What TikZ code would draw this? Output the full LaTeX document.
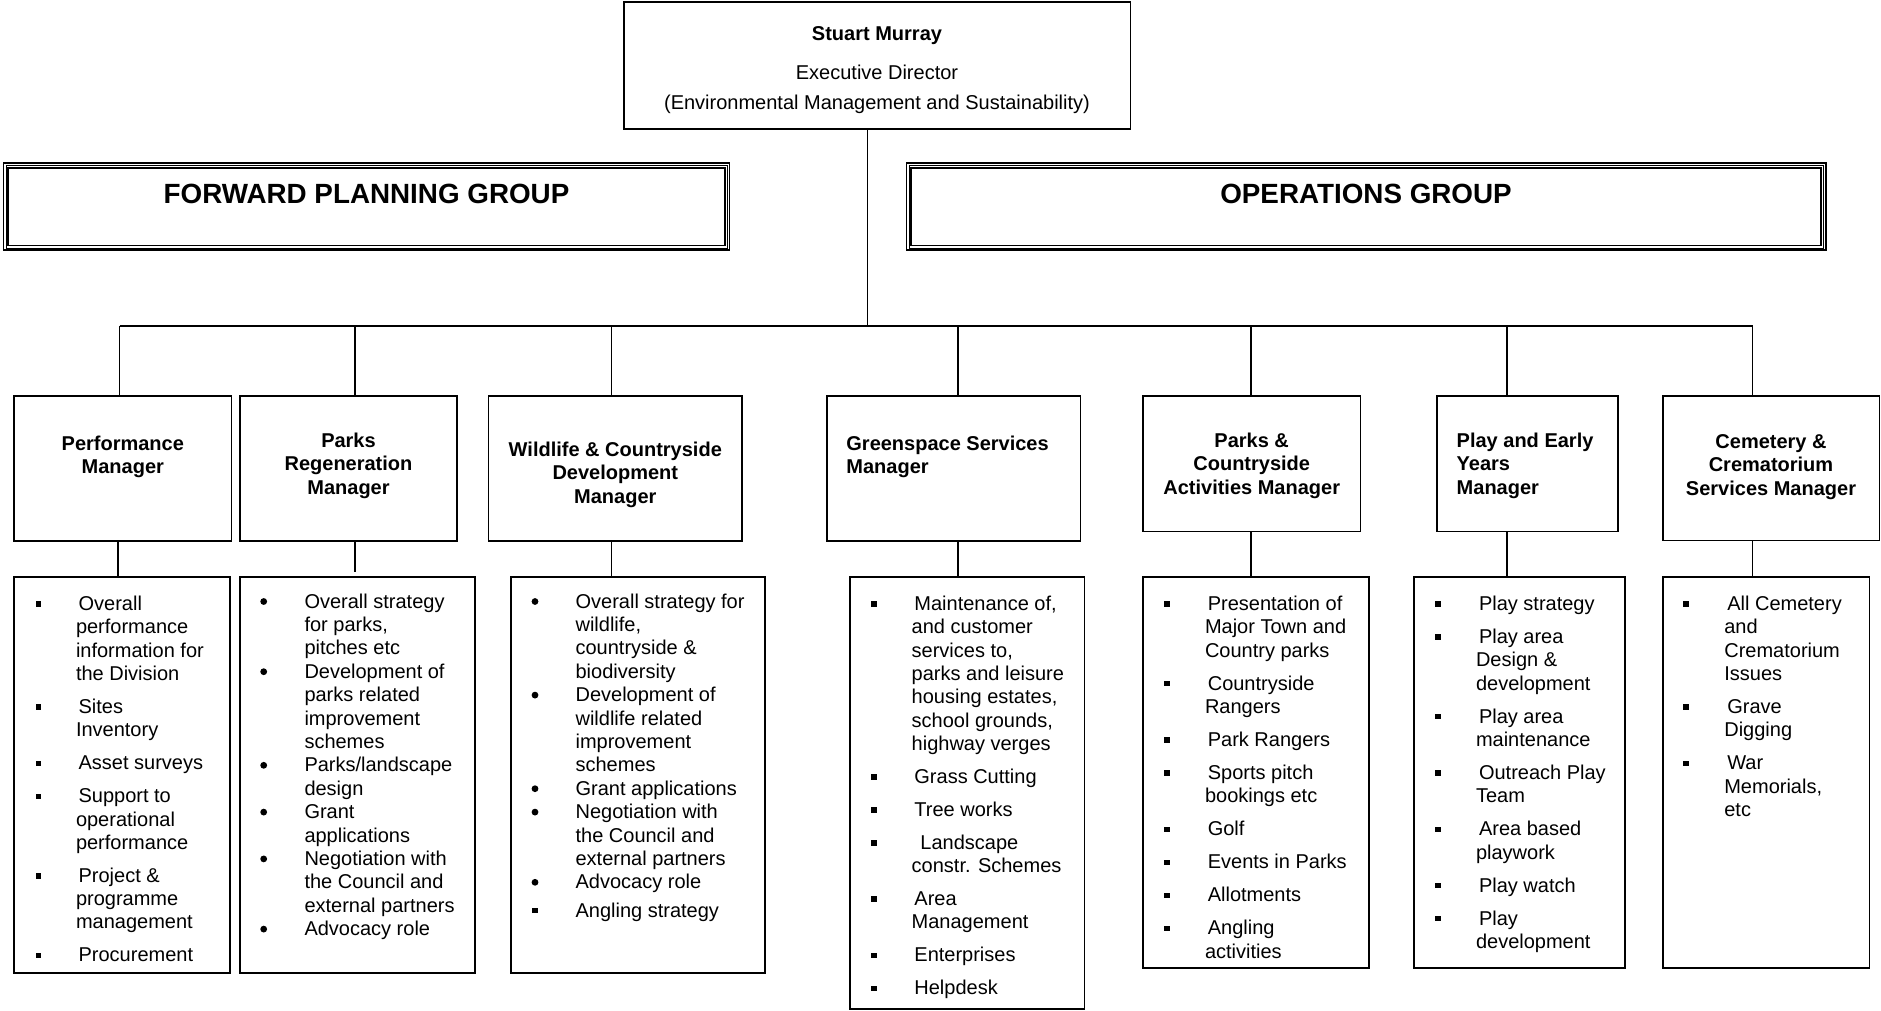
\documentclass[tikz,border=0pt]{standalone}
\usepackage{fontspec}
\setmainfont{Liberation Sans}
\usetikzlibrary{calc}
\tikzset{
  box/.style={draw, line width=1.6pt, inner sep=0pt, outer sep=0pt, rectangle},
  conn/.style={line width=1.5pt},
  txt/.style={inner sep=0pt, outer sep=0pt, anchor=base west, font=\fontsize{20}{23}\selectfont},
  hd/.style={txt, font=\fontsize{20}{23}\selectfont\bfseries},
  grp/.style={txt, anchor=base, font=\fontsize{27.8}{30}\selectfont\bfseries},
}
% box from corner (x1,y1) to (x2,y2)
\newcommand\boxat[6][box]{%
  \pgfmathsetmacro\bw{#5-#3}\pgfmathsetmacro\bh{#6-#4}%
  \pgfmathsetmacro\bx{(#3+#5)/2}\pgfmathsetmacro\by{(#4+#6)/2}%
  \node[#1,minimum width=\bw pt,minimum height=\bh pt] (#2) at (\bx,\by) {};}
\newcommand\grpat[5]{%
  \boxat[box,line width=1.9pt]{#1}{#2}{#3}{#4}{#5}%
  \draw[line width=0.8pt] ($(#1.north west)+(2.4,2.4)$) rectangle ($(#1.south east)+(-2.4,-2.4)$);
  \draw[line width=1.9pt] ($(#1.north west)+(4.8,4.8)$) rectangle ($(#1.south east)+(-4.8,-4.8)$);}
\def\lpitch{23.3}
% item: name, type (s/r), bullet x, text x, cont x, centre y, lines
\newcommand\itm[7]{%
  \if#2s\fill (#3-2.8,#6-2.2) rectangle (#3+2.8,#6+3.2);\else\fill (#3,#6+0.5) circle[radius=3.4];\fi
  \foreach \myl [count=\i from 0] in {#7}{%
    \ifnum\i=0 \def\lx{#4}\else\def\lx{#5}\fi
    \node[txt] (#1-\i) at (\lx,#6+7+\i*\lpitch) {\myl};}%
}
% heading lines: name, anchor, x, first baseline, lines
\newcommand\hdl[5]{%
  \foreach \myl [count=\i from 0] in {#5}{%
    \node[hd,anchor=#2] (#1-\i) at (#3,#4+\i*23.5) {\myl};}}
\begin{document}
\begin{tikzpicture}[x=1pt,y=-1pt]
\useasboundingbox (0,0) rectangle (1881,1011);

% ---- top box
\boxat{top}{624}{2}{1130.5}{129}
\node[hd,anchor=base] (t1) at (877,40.5) {Stuart Murray};
\node[txt,anchor=base] (t2) at (877,80) {Executive Director};
\node[txt,anchor=base] (t3) at (877,110) {(Environmental Management and Sustainability)};

% ---- group boxes
\grpat{fpg}{3.5}{162.8}{729.5}{250.3}
\node[grp] (fpgt) at (366.5,204) {FORWARD PLANNING GROUP};
\grpat{og}{906.5}{162.8}{1826}{250.3}
\node[grp] (ogt) at (1366,204) {OPERATIONS GROUP};

% ---- manager boxes
\boxat{pm}{14}{396}{231.5}{541}
\boxat{pr}{240}{396}{457}{541}
\boxat{wc}{488.5}{396}{742}{541}
\boxat{gs}{826.7}{396}{1080.5}{541}
\boxat{pc}{1143}{396}{1360.5}{531.5}
\boxat{pe}{1436.7}{396}{1617.7}{531.5}
\boxat{cc}{1662.7}{396}{1879.5}{540.5}

% ---- list boxes
\boxat{pml}{14}{577}{230}{973}
\boxat{prl}{240}{577}{475}{973}
\boxat{wcl}{511}{577}{765}{973}
\boxat{gsl}{850}{577}{1084.5}{1009}
\boxat{pcl}{1143}{577}{1369}{968}
\boxat{pel}{1414}{577}{1625}{968}
\boxat{ccl}{1662.7}{577}{1869.3}{968}

% ---- connectors
\coordinate (bus) at (867.5,326);
\coordinate (d1) at (119.5,326);
\coordinate (d2) at (355,326);
\coordinate (d3) at (611.5,326);
\coordinate (d4) at (958,326);
\coordinate (d5) at (1251,326);
\coordinate (d6) at (1507,326);
\coordinate (d7) at (1752.5,326);
\coordinate (l1) at (118,560);
\draw[conn] (top.south -| bus) -- (bus);
\draw[conn] (d1) -- (d7);
\draw[conn] (d1) -- (d1 |- pm.north);
\draw[conn] (d2) -- (d2 |- pr.north);
\draw[conn] (d3) -- (d3 |- wc.north);
\draw[conn] (d4) -- (d4 |- gs.north);
\draw[conn] (d5) -- (d5 |- pc.north);
\draw[conn] (d6) -- (d6 |- pe.north);
\draw[conn] (d7) -- (d7 |- cc.north);
\draw[conn] (pm.south -| l1) -- (l1 |- pml.north);
\draw[conn] (pr.south -| d2) -- ($(d2 |- prl.north)+(0,-5)$);
\draw[conn] (wc.south -| d3) -- (d3 |- wcl.north);
\draw[conn] (gs.south -| d4) -- (d4 |- gsl.north);
\draw[conn] (pc.south -| d5) -- (d5 |- pcl.north);
\draw[conn] (pe.south -| d6) -- (d6 |- pel.north);
\draw[conn] (cc.south -| d7) -- (d7 |- ccl.north);

% ---- manager headings
\hdl{pmh}{base}{122.8}{450}{Performance,Manager}
\hdl{prh}{base}{348.5}{447}{Parks,Regeneration,Manager}
\hdl{wch}{base}{615.3}{456}{Wildlife \& Countryside,Development,Manager}
\hdl{gsh}{base west}{846.4}{450}{Greenspace Services,Manager}
\hdl{pch}{base}{1251.7}{447}{Parks \&,Countryside,Activities Manager}
\hdl{peh}{base west}{1456.7}{447}{Play and Early,Years,Manager}
\hdl{cch}{base}{1771}{448}{Cemetery \&,Crematorium,Services Manager}

% ---- Performance list
\def\lpitch{23.3}
\itm{pa}{s}{38.3}{78.6}{76}{603.5}{Overall,performance,information for,the Division}
\itm{pb}{s}{38.3}{78.6}{76}{706.4}{Sites,Inventory}
\itm{pc}{s}{38.3}{78.6}{76}{762.7}{Asset surveys}
\itm{pd}{s}{38.3}{78.6}{76}{795.7}{Support to,operational,performance}
\itm{pe}{s}{38.3}{78.6}{76}{875.3}{Project \&,programme,management}
\itm{pf}{s}{38.3}{78.6}{76}{954.9}{Procurement}

% ---- Parks Regeneration list
\def\lpitch{23.4}
\itm{ra}{r}{263.7}{304.5}{304.5}{601}{Overall strategy,{for parks,},pitches etc}
\itm{rb}{r}{263.7}{304.5}{304.5}{671.2}{Development of,parks related,improvement,schemes}
\itm{rc}{r}{263.7}{304.5}{304.5}{764.8}{Parks/landscape,design}
\itm{rd}{r}{263.7}{304.5}{304.5}{811.6}{Grant,applications}
\itm{re}{r}{263.7}{304.5}{304.5}{858.4}{Negotiation with,the Council and,external partners}
\itm{rf}{r}{263.7}{304.5}{304.5}{928.6}{Advocacy role}

% ---- Wildlife list
\itm{wa}{r}{535}{575.6}{575.6}{601}{Overall strategy for,{wildlife,},countryside \&,biodiversity}
\itm{wb}{r}{535}{575.6}{575.6}{694.6}{Development of,wildlife related,improvement,schemes}
\itm{wc}{r}{535}{575.6}{575.6}{788.2}{Grant applications}
\itm{wd}{r}{535}{575.6}{575.6}{811.6}{Negotiation with,the Council and,external partners}
\itm{we}{r}{535}{575.6}{575.6}{881.8}{Advocacy role}
\itm{wf}{s}{535}{575.6}{575.6}{910}{Angling strategy}

% ---- Greenspace list
\def\lpitch{23.3}
\itm{ga}{s}{873.7}{914.4}{911.7}{603.5}{{Maintenance of,},and customer,{services to,},parks and leisure,{housing estates,},{school grounds,},highway verges}
\itm{gb}{s}{873.7}{914.4}{911.7}{776.3}{Grass Cutting}
\itm{gc}{s}{873.7}{914.4}{911.7}{809.3}{Tree works}
\itm{gd}{s}{873.7}{920.4}{911.7}{842.3}{Landscape,constr. Schemes}
\itm{ge}{s}{873.7}{914.4}{911.7}{898.6}{Area,Management}
\itm{gf}{s}{873.7}{914.4}{911.7}{954.9}{Enterprises}
\itm{gg}{s}{873.7}{914.4}{911.7}{987.9}{Helpdesk}

% ---- Parks & Countryside list
\itm{ca}{s}{1166.7}{1207.8}{1205}{603.5}{Presentation of,Major Town and,Country parks}
\itm{cb}{s}{1166.7}{1207.8}{1205}{683.1}{Countryside,Rangers}
\itm{cc}{s}{1166.7}{1207.8}{1205}{739.4}{Park Rangers}
\itm{cd}{s}{1166.7}{1207.8}{1205}{772.4}{Sports pitch,bookings etc}
\itm{ce}{s}{1166.7}{1207.8}{1205}{828.7}{Golf}
\itm{cf}{s}{1166.7}{1207.8}{1205}{861.7}{Events in Parks}
\itm{cg}{s}{1166.7}{1207.8}{1205}{894.7}{Allotments}
\itm{ch}{s}{1166.7}{1207.8}{1205}{927.7}{Angling,activities}

% ---- Play list
\itm{ya}{s}{1437.7}{1479}{1476}{603.5}{Play strategy}
\itm{yb}{s}{1437.7}{1479}{1476}{636.5}{Play area,Design \&,development}
\itm{yc}{s}{1437.7}{1479}{1476}{716.1}{Play area,maintenance}
\itm{yd}{s}{1437.7}{1479}{1476}{772.4}{Outreach Play,Team}
\itm{ye}{s}{1437.7}{1479}{1476}{828.7}{Area based,playwork}
\itm{yf}{s}{1437.7}{1479}{1476}{885}{Play watch}
\itm{yg}{s}{1437.7}{1479}{1476}{918}{Play,development}

% ---- Cemetery list
\itm{ma}{s}{1686}{1727.3}{1724.3}{603.5}{All Cemetery,and,Crematorium,Issues}
\itm{mb}{s}{1686}{1727.3}{1724.3}{706.4}{Grave,Digging}
\itm{mc}{s}{1686}{1727.3}{1724.3}{762.7}{War,{Memorials,},etc}
\end{tikzpicture}
\end{document}
